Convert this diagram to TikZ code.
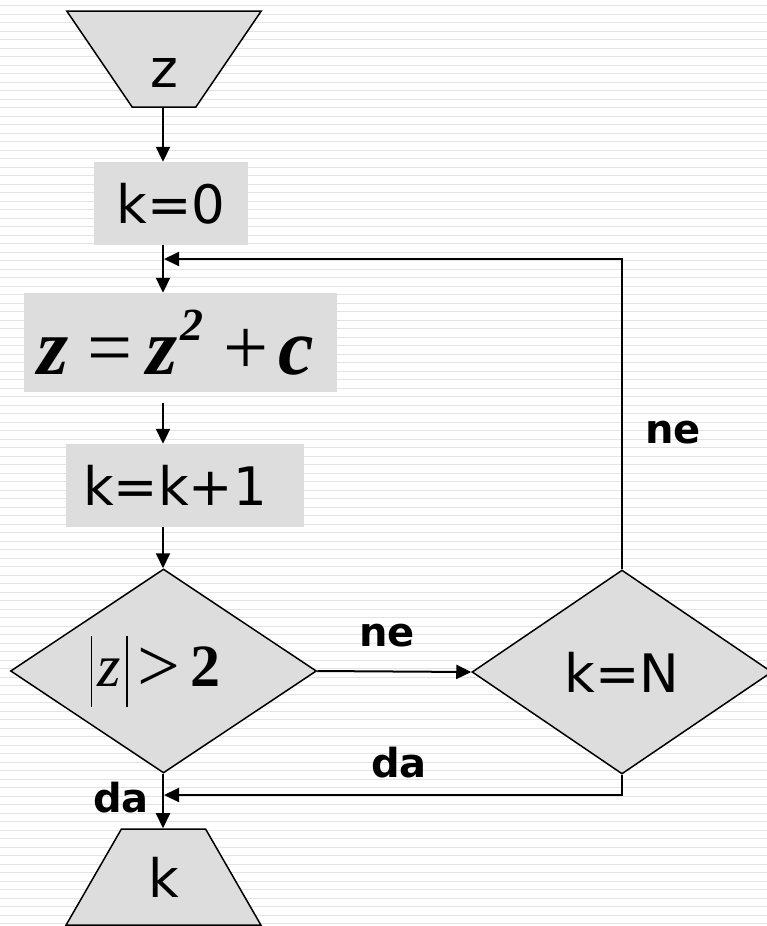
\documentclass[tikz,border=0pt]{standalone}
\usepackage{fontspec}
\setmainfont{DejaVu Sans}
\newfontfamily\tnr{Liberation Serif}
\usetikzlibrary{shapes.geometric,arrows.meta}
\definecolor{boxgray}{HTML}{DDDDDD}
\definecolor{stripe}{HTML}{E3E3E3}
\begin{document}
\begin{tikzpicture}[x=1pt,y=-1pt,
  box/.style={fill=boxgray, inner sep=0, font=\fontsize{53}{60}\selectfont},
  dec/.style={diamond, aspect=1.5, draw=black, line width=1.5pt, fill=boxgray, inner sep=0},
  trap/.style={trapezium, trapezium stretches=true, trapezium angle=63.4,
    minimum width=196pt, minimum height=96pt, draw=black, line width=1.5pt,
    fill=boxgray, inner sep=0, font=\fontsize{53}{60}\selectfont},
  conn/.style={line width=2pt, -{Triangle[length=15pt,width=14pt]}},
  lab/.style={anchor=base, inner sep=0, font=\bfseries\fontsize{40}{48}\selectfont}
]
\useasboundingbox (0,0) rectangle (767,926);
\fill[white] (0,0) rectangle (767,926);
\foreach \i in {0,...,108}
  \draw[stripe, line width=1.3pt] (0,5.7+8.5*\i) -- (767,5.7+8.5*\i);

\coordinate (col) at (163,0);
\coordinate (j1) at (164,259);
\coordinate (j2) at (164,795);

\node[trap, shape border rotate=180] (in) at (164,59) {\rule{0pt}{57pt}z};
\node[box, minimum width=154pt, minimum height=83pt] (k0) at (171,203.5) {k=0};
\node[box, minimum width=313pt, minimum height=99pt] (eq) at (180.5,342.5)
  {\tnr\fontsize{80}{88}\selectfont\textbf{\textit{z}}\hspace{18pt}=\hspace{14pt}\textbf{\textit{z}}\hspace{3pt}\raisebox{0.42em}{\fontsize{46}{46}\selectfont\textbf{\textit{2}}}\hspace{20pt}+\hspace{10pt}\textbf{\textit{c}}\hspace*{9pt}};
\node[box, minimum width=238pt, minimum height=83pt] (kk1) at (185,485.5) {k=k+1\hspace*{20pt}};
\node[dec, minimum width=306pt, minimum height=204pt] (d1) at (163.5,671)
  {\tnr\fontsize{60}{60}\selectfont\rule[-20pt]{1.8pt}{71pt}\hspace{5pt}\textit{z}\hspace{5pt}\rule[-20pt]{1.8pt}{71pt}\hspace{10pt}\raisebox{-5pt}{\fontsize{76}{76}\selectfont >}\hspace{10pt}\textbf{2}\hspace*{16pt}};
\node[dec, minimum width=300pt, minimum height=204pt, font=\fontsize{53}{60}\selectfont] (d2) at (622,672) {k=N};
\node[trap] (out) at (163.5,877) {k};

\draw[conn] (in.south -| col) -- (k0.north -| col);
\draw[conn] (k0.south -| col) -- (eq.north -| col);
\draw[conn, shorten <=11pt] (eq.south -| col) -- (kk1.north -| col);
\draw[conn] (kk1.south -| col) -- (d1.north -| col);
\draw[conn] (d1.east) -- (d2.west);
\draw[conn] (d2.north) |- (j1);
\draw[conn] (d2.south) |- (j2);
\draw[conn] (d1.south -| col) -- (out.north -| col);

\node[lab] (ne1) at (387,646) {ne};
\node[lab] (da1) at (399,777) {da};
\node[lab] (ne2) at (673,443) {ne};
\node[lab] (da2) at (121,812) {da};
\end{tikzpicture}
\end{document}
